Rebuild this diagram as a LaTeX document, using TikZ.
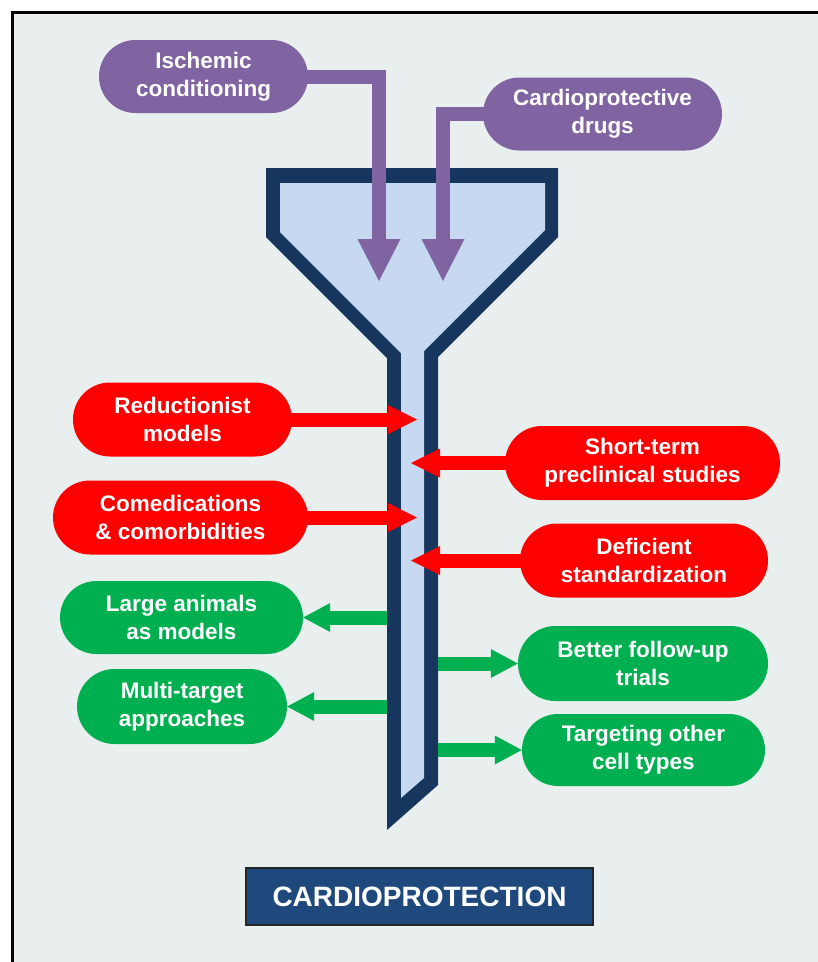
\documentclass[tikz,border=0pt]{standalone}
\usepackage{fontspec}
\setmainfont{Liberation Sans}
\usetikzlibrary{arrows.meta,shapes.misc}
\definecolor{bg}{HTML}{E9EFEF}
\definecolor{navy}{HTML}{17365D}
\definecolor{funfill}{HTML}{C6D9F1}
\definecolor{purp}{HTML}{8064A2}
\definecolor{grn}{HTML}{00B050}
\definecolor{titlebl}{HTML}{1F497D}
\begin{document}
\begin{tikzpicture}[x=1pt,y=-1pt,
  pill/.style={rounded rectangle, fill=#1, text=white, align=center, inner sep=0pt,
    font=\bfseries\fontsize{22.5}{28}\selectfont},
  parrow/.style={draw=purp, line width=14pt, line join=miter,
    -{Triangle[length=42pt,width=43pt,line width=0pt]}},
  rarrow/.style={draw=red, line width=14pt,
    -{Triangle[length=29pt,width=29pt,line width=0pt]}},
  garrow/.style={draw=grn, line width=14pt,
    -{Triangle[length=27pt,width=29pt,line width=0pt]}}]
\useasboundingbox (0,0) rectangle (818,962);
\fill[white] (0,0) rectangle (818,962);
\fill[bg] (12,12) rectangle (818,962);
\draw[black, line width=3pt] (12,962) -- (12,12) -- (818,12);

% funnel
\fill[navy] (266,168) -- (558,168) -- (558,237) -- (438,357) -- (438,785)
  -- (387,830) -- (387,358) -- (266,237) -- cycle;
\fill[funfill] (280,183) -- (545,183) -- (545,230) -- (424,351) -- (424,778)
  -- (401,798) -- (401,353) -- (280,232) -- cycle;

% reference points on the funnel
\coordinate (pt1) at (379,281);
\coordinate (pt2) at (443,281);
\coordinate (stemLin) at (417,0);
\coordinate (stemRin) at (411,0);
\coordinate (stemL) at (387,0);
\coordinate (stemR) at (438,0);

% nodes
\node[pill=purp, minimum width=209pt, minimum height=73pt] (isch) at (203.5,76.5) {Ischemic\\conditioning};
\node[pill=purp, minimum width=239pt, minimum height=73pt] (cardio) at (602.5,114) {Cardioprotective\\drugs};
\node[pill=red, minimum width=219pt, minimum height=74pt] (reduc) at (182.5,419.5) {Reductionist\\models};
\node[pill=red, minimum width=255pt, minimum height=74pt] (comed) at (180.5,517.5) {Comedications\\\& comorbidities};
\node[pill=red, minimum width=275pt, minimum height=74pt] (short) at (642.5,463) {Short-term\\preclinical studies};
\node[pill=red, minimum width=248pt, minimum height=74pt] (defic) at (644,560.5) {Deficient\\standardization};
\node[pill=grn, minimum width=243pt, minimum height=73pt] (large) at (181.5,617.5) {Large animals\\as models};
\node[pill=grn, minimum width=210pt, minimum height=75pt] (multi) at (182,706.5) {Multi-target\\approaches};
\node[pill=grn, minimum width=250pt, minimum height=75pt] (better) at (643,663.5) {Better follow-up\\trials};
\node[pill=grn, minimum width=243pt, minimum height=72pt] (target) at (643.5,750) {Targeting other\\cell types};
\node[draw=black!85, line width=2pt, fill=titlebl, text=white, inner sep=0pt,
  font=\bfseries\fontsize{28}{32}\selectfont, minimum width=347pt, minimum height=57pt]
  (title) at (419.5,896.5) {CARDIOPROTECTION};

% connectors
\draw[parrow] ([xshift=-6pt]isch.east) -| (pt1);
\draw[parrow] ([xshift=6pt]cardio.west) -| (pt2);
\draw[rarrow] ([xshift=-6pt]reduc.east) -- (reduc.east -| stemLin);
\draw[rarrow] ([xshift=-6pt]comed.east) -- (comed.east -| stemLin);
\draw[rarrow] ([xshift=6pt]short.west) -- (short.west -| stemRin);
\draw[rarrow] ([xshift=6pt]defic.west) -- (defic.west -| stemRin);
\draw[garrow] (large.east -| stemL) -- (large.east);
\draw[garrow] (multi.east -| stemL) -- (multi.east);
\draw[garrow] (better.west -| stemR) -- (better.west);
\draw[garrow] (target.west -| stemR) -- (target.west);
\end{tikzpicture}
\end{document}
